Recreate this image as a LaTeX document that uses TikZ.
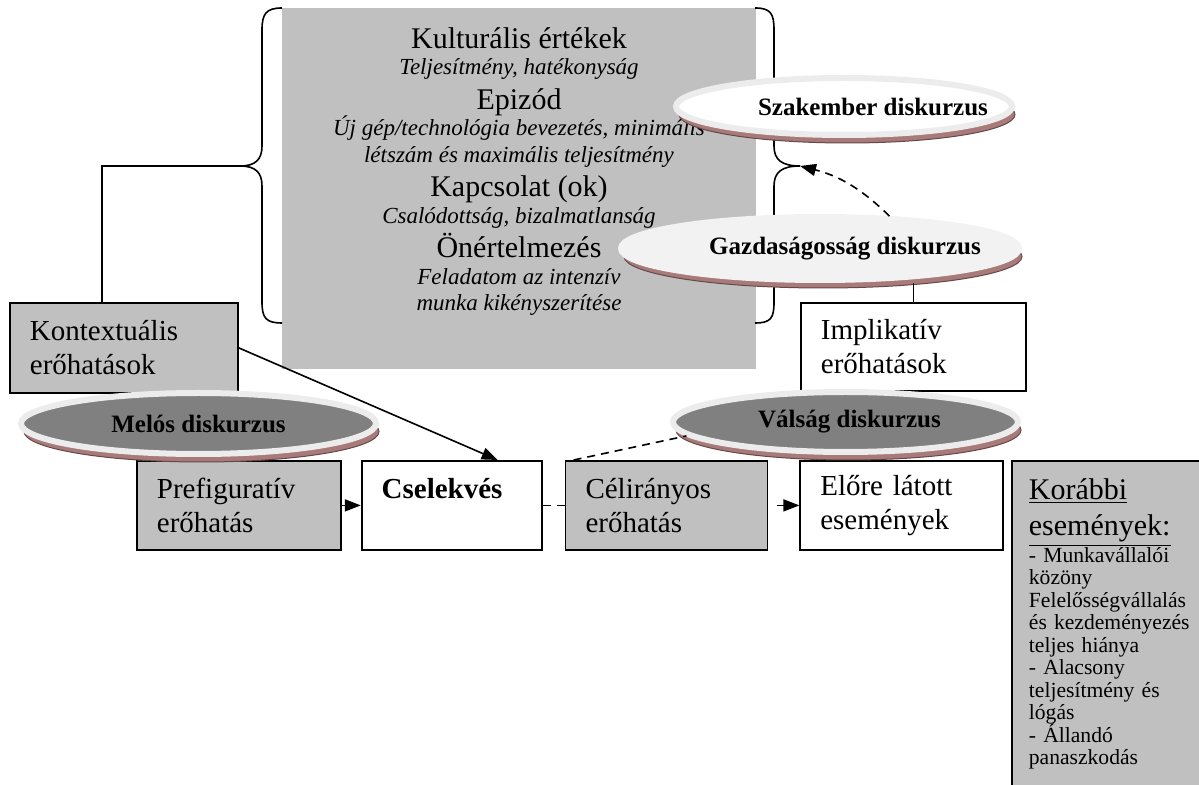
\documentclass[tikz,border=0pt]{standalone}
\usepackage{fontspec}
\setmainfont{Liberation Serif}
\usetikzlibrary{positioning,arrows.meta,shadows,shapes.geometric}

\definecolor{panelgray}{HTML}{C0C0C0}
\definecolor{discdark}{HTML}{808080}
\definecolor{disclight}{HTML}{F2F2F2}
\definecolor{rimgray}{HTML}{ECECEC}
\definecolor{shadowred}{HTML}{A87A7A}

\newcommand{\vhead}[1]{{\fontsize{15}{13.25}\selectfont\upshape #1}}
\newcommand{\nolineskip}{\lineskiplimit=-20pt}
\newcommand{\offtext}[2]{\makebox[0pt]{\hspace*{#1}#2}}

\begin{document}
\begin{tikzpicture}[
    x=0.5pt, y=-0.5pt,
    box/.style={draw, line width=0.9pt, align=left, inner xsep=10pt, inner ysep=0pt, minimum height=44.5pt, font=\fontsize{14.5}{17}\selectfont},
    disc/.style={ellipse, draw=rimgray, line width=3pt, inner sep=0pt, font=\fontsize{12.5}{14}\selectfont\bfseries,
      drop shadow={shadow xshift=1.5pt, shadow yshift=-4pt, fill=shadowred, opacity=1, draw=shadowred!60!black, line width=0.5pt}},
    arrow/.style={-{Triangle[length=8pt,width=6pt]}, line width=0.8pt},
    dashline/.style={line width=0.8pt, dash pattern=on 4pt off 3pt},
    dasharrow/.style={arrow, dash pattern=on 4pt off 3pt},
    conn/.style={line width=0.8pt},
  ]
  \useasboundingbox (0,0) rectangle (1199,785);

  % values panel
  \node[fill=panelgray, minimum width=237pt, minimum height=180.5pt, inner sep=0pt, anchor=north west] (values) at (282,8) {};
  \node[anchor=north, align=center, inner sep=0pt, font=\fontsize{11.5}{13.25}\selectfont\itshape\nolineskip] (valtext) at (519,27) {%
    \vhead{Kulturális értékek}\\
    Teljesítmény, hatékonyság\\[4pt]
    \vhead{Epizód}\\
    Új gép/technológia bevezetés, minimális\\
    létszám és maximális teljesítmény\\[4pt]
    \vhead{Kapcsolat (ok)}\\
    Csalódottság, bizalmatlanság\\[4pt]
    \vhead{Önértelmezés}\\
    Feladatom az intenzív\\
    munka kikényszerítése};

  % braces
  \draw[conn] (282,8) .. controls (266,8) and (262,14) .. (262,30) -- (262,146)
    .. controls (262,160) and (255,166) .. (240,166)
    .. controls (255,166) and (262,172) .. (262,186) -- (262,302)
    .. controls (262,318) and (266,323) .. (282,323);
  \coordinate (lbtip) at (240,166);
  \draw[conn] (755,8) .. controls (771,8) and (774,14) .. (774,30) -- (774,146)
    .. controls (774,160) and (782,166) .. (800,166)
    .. controls (782,166) and (774,172) .. (774,186) -- (774,302)
    .. controls (774,318) and (771,323) .. (755,323);
  \coordinate (rbtip) at (800,166);

  % boxes
  \node[box, fill=panelgray, text width=94pt, minimum height=45pt, anchor=north west] (kont) at (9,302) {Kontextuális\\erőhatások};
  \node[box, text width=92.5pt, minimum height=44pt, anchor=north west] (impl) at (800,302) {Implikatív\\erőhatások};

  \node[box, fill=panelgray, text width=82pt, anchor=north west] (prefig) at (136,460) {Prefiguratív\\erőhatás};
  \node[box, text width=70pt, right=9.5pt of prefig] (csel) {\textbf{Cselekvés}\\~};
  \node[box, fill=panelgray, text width=81pt, right=11pt of csel] (celir) {Célirányos\\erőhatás};
  \node[box, text width=81.5pt, right=15.5pt of celir] (elore) {Előre látott\\események};

  \node[draw, line width=0.9pt, fill=panelgray, anchor=north west, align=left, text width=90pt, inner xsep=8.5pt, inner ysep=9pt,
    font=\fontsize{10.8}{11.25}\selectfont\nolineskip] (korabbi) at (1011,460) {%
    {\fontsize{15}{18}\selectfont\underline{Korábbi}}\\[6.75pt]
    {\fontsize{15}{18}\selectfont\underline{események:}}\\[2pt]
    - Munkavállalói\\
    közöny\\
    Felelősségvállalás\\
    és kezdeményezés\\
    teljes hiánya\\
    - Alacsony\\
    teljesítmény és\\
    lógás\\
    - Állandó\\
    panaszkodás\\[12pt]
    ~};

  % discourses
  \node[disc, fill=white, minimum width=168pt, minimum height=28.5pt] (szak) at (844,106.5) {\offtext{29pt}{Szakember diskurzus}};
  \node[disc, fill=disclight, draw=disclight, minimum width=199pt, minimum height=31.5pt] (gazd) at (820,248.5) {\offtext{25pt}{Gazdaságosság diskurzus}};
  \node[disc, fill=discdark, minimum width=177.5pt, minimum height=30.5pt] (melos) at (198.5,423.5) {Melós diskurzus};
  \node[disc, fill=discdark, minimum width=172.5pt, minimum height=30pt] (valsag) at (845.5,422) {\offtext{4pt}{Válság diskurzus}};

  % connectors
  \draw[conn] (lbtip) -| ([xshift=-11pt]kont.north);
  \draw[arrow] (kont.east) -- ([xshift=23pt]csel.north);
  \draw[dasharrow] (prefig) -- (csel);
  \draw[dashline] (csel) -- (celir);
  \draw[arrow] ([xshift=4.5pt]celir.east) -- (elore.west);
  \draw[dashline] ([xshift=4.5pt]celir.north west) -- (valsag.185);
  \draw[conn] (impl.north) -- (impl.north |- gazd.south);
  \draw[dasharrow] (gazd.25) to[bend right=15] (rbtip);
\end{tikzpicture}
\end{document}
